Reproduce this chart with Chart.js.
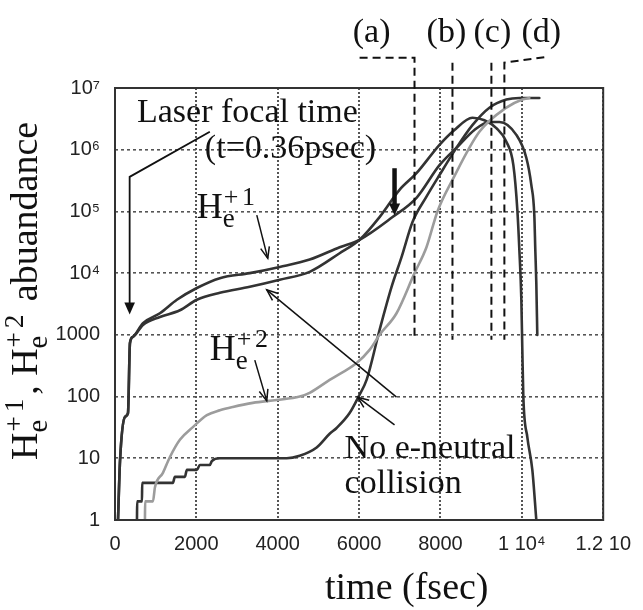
<!DOCTYPE html>
<html>
<head>
<meta charset="utf-8">
<script src="https://cdn.jsdelivr.net/npm/chart.js@4.4.0/dist/chart.umd.min.js"></script>
<style>
  html, body { margin: 0; padding: 0; background: #fff; }
</style>
</head>
<body>
<canvas id="chart" width="643" height="610"></canvas>
<script>
// ---- values: time (fsec) and abundance ----
// He+1, with e-neutral collision
const tHe1Coll = [74, 123, 245, 319, 368, 442, 687, 1104, 1521, 2012, 2577, 3313, 4049, 4785, 5522, 6012,
  6822, 7411, 7976, 8466, 8834, 9203, 9448, 9865, 10110, 10233, 10307, 10331, 10356, 10380];
const he1Coll = [1, 9, 47, 54, 740, 930, 1550, 2240, 3700, 5750, 8300, 10000, 12600, 16600, 26300, 34700,
  81000, 166000, 562000, 1200000, 2090000, 2820000, 2820000, 1740000, 741000, 269000, 87000, 24000, 6900, 1000];

// He+1, no e-neutral collision
const tHe1NoColl = [74, 123, 245, 319, 368, 442, 687, 1104, 1595, 2012, 2577, 3313, 4049, 4785, 5522, 6012,
  6503, 6994, 7411, 7976, 8344, 8785, 9080, 9374, 9620, 9792, 9890, 9939, 9988, 10012, 10037, 10135, 10258, 10356];
const he1NoColl = [1, 9, 47, 54, 740, 930, 1450, 1950, 2500, 3700, 4800, 6000, 7800, 10500, 21000, 34700,
  81000, 224000, 417000, 1200000, 2090000, 3300000, 3000000, 2240000, 1350000, 562000, 105000, 24000, 3700, 575, 100, 22, 6.5, 1];

// He+2, no e-neutral collision (dark, stair-stepped at low counts)
const tHe2NoColl = [540, 545, 663, 668, 1423, 1472, 1718, 1767, 2012, 2086, 2331, 2380, 2577, 4221, 4540, 4957,
  5276, 5448, 5767, 5988, 6184, 6503, 6798, 7043, 7313, 7656, 7976, 8393, 8785, 9203, 9620, 9939, 10430];
const he2NoColl = [1, 2, 2, 4, 4, 5, 5, 6.5, 6.5, 7.8, 7.8, 9, 10, 10, 11, 15,
  25, 31, 54, 100, 186, 1200, 6000, 18200, 67600, 174000, 389000, 1070000, 2500000, 4800000, 6500000, 6900000, 6900000];

// He+2, with e-neutral collision (grey)
const tHe2Coll = [736, 741, 933, 982, 1178, 1350, 1595, 1914, 2258, 2577, 2896, 3387, 3975, 4540, 4785, 5276,
  5939, 6258, 6503, 6920, 7362, 7656, 7926, 8295, 8957, 9620, 10012, 10184];
const he2Coll = [1, 2, 2, 3.4, 5.8, 10.5, 20, 32, 50, 60, 68, 79, 88, 100, 115, 186,
  350, 570, 1000, 2240, 10000, 26300, 100000, 324000, 1950000, 4800000, 6500000, 6900000];

const xTicks = [0, 2000, 4000, 6000, 8000, 10000, 12000];
const xTickLabels = ['0', '2000', '4000', '6000', '8000', '1 10\u2074', '1.2 10'];
const yTicks = [1, 10, 100, 1000, 1e4, 1e5, 1e6, 1e7];
const yTickLabels = ['1', '10', '100', '1000', '10\u2074', '10\u2075', '10\u2076', '10\u2077'];

const dark = '#333';
const grey = '#9c9c9c';
const serif = '"Liberation Serif", "Times New Roman", serif';
const sans = '"Liberation Sans", "DejaVu Sans", sans-serif';

function toPoints(ts, vs) {
  return ts.map((t, i) => ({ x: t, y: vs[i] }));
}

// labels, arrows, dashed markers and the frame
const notes = {
  id: 'notes',
  afterDraw(chart) {
    const ctx = chart.ctx;
    const a = chart.chartArea;
    const sx = chart.scales.x, sy = chart.scales.y;
    const P = (t, L) => [sx.getPixelForValue(t), sy.getPixelForValue(Math.pow(10, L))];

    function text(s, x, y, size, align) {
      ctx.font = size + 'px ' + serif;
      ctx.textAlign = align || 'left';
      ctx.textBaseline = 'alphabetic';
      ctx.fillText(s, x, y);
      return ctx.measureText(s).width;
    }
    function ion(x, y, size, charge) {
      const wH = text('H', x, y, size);
      text('e', x + wH, y + size * 0.25, size * 0.75);
      let cx = x + wH + 1;
      for (const ch of charge) cx += text(ch, cx, y - size * 0.36, size * 0.72) + size * 0.1;
      return cx - x;
    }
    function path(pts, width, dash) {
      ctx.lineWidth = width;
      ctx.setLineDash(dash || []);
      ctx.beginPath();
      pts.forEach((p, i) => i ? ctx.lineTo(p[0], p[1]) : ctx.moveTo(p[0], p[1]));
      ctx.stroke();
      ctx.setLineDash([]);
    }
    function head(p0, p1, len, spread, filled) {
      const ang = Math.atan2(p1[1] - p0[1], p1[0] - p0[0]);
      ctx.beginPath();
      ctx.moveTo(p1[0] - len * Math.cos(ang - spread), p1[1] - len * Math.sin(ang - spread));
      ctx.lineTo(p1[0], p1[1]);
      ctx.lineTo(p1[0] - len * Math.cos(ang + spread), p1[1] - len * Math.sin(ang + spread));
      if (filled) { ctx.closePath(); ctx.fill(); } else ctx.stroke();
    }
    function arrow(p0, p1) {
      path([p0, p1], 1.5);
      head(p0, p1, 12, 0.38, false);
    }

    ctx.save();
    ctx.strokeStyle = dark;
    ctx.lineWidth = 2;
    ctx.strokeRect(a.left, a.top, a.right - a.left, a.bottom - a.top);

    ctx.fillStyle = '#111';
    ctx.strokeStyle = '#111';
    ctx.lineCap = 'butt';

    // (a)-(d) markers
    const bottomL = 2.92;
    path([P(6012, 7.49), P(7362, 7.49), P(7362, bottomL)], 2, [8, 5]);
    path([P(8295, 7.41), P(8295, bottomL)], 2, [8, 5]);
    path([P(9252, 7.41), P(9252, bottomL)], 2, [8, 5]);
    path([P(10552, 7.50), P(9571, 7.41), P(9571, bottomL)], 2, [8, 5]);
    text('(a)', P(6307, 0)[0], P(0, 7.75)[1], 34, 'center');
    text('(b)', P(8147, 0)[0], P(0, 7.75)[1], 34, 'center');
    text('(c)', P(9276, 0)[0], P(0, 7.75)[1], 34, 'center');
    text('(d)', P(10480, 0)[0], P(0, 7.75)[1], 34, 'center');

    // laser focal time
    text('Laser focal time', P(540, 0)[0], P(0, 6.45)[1], 34);
    text('(t=0.36psec)', P(2209, 0)[0], P(0, 5.87)[1], 34);
    path([P(2331, 6.29), P(360, 5.56), P(360, 3.45)], 1.8);
    head(P(360, 4), P(360, 3.33), 13, 0.42, true);

    // ion labels
    ion(P(2012, 0)[0], P(0, 4.89)[1], 36, '+1');
    arrow(P(3485, 4.94), P(3755, 4.24));
    ion(P(2331, 0)[0], P(0, 2.59)[1], 36, '+2');
    arrow(P(3436, 2.59), P(3730, 1.93));

    // no e-neutral collision
    text('No e-neutral', P(5644, 0)[0], P(0, 1.0)[1], 34);
    text('collision', P(5644, 0)[0], P(0, 0.44)[1], 34);
    arrow(P(6920, 1.99), P(3730, 3.73));
    arrow(P(6871, 1.54), P(5963, 1.99));

    // thick arrow
    path([P(6871, 5.70), P(6871, 5.05)], 4.5);
    head(P(6871, 5.5), P(6871, 4.94), 13, 0.45, true);

    // axis titles
    text('time (fsec)', a.left + 210, a.bottom + 79, 38);
    ctx.translate(a.left - 78, a.bottom - 60);
    ctx.rotate(-Math.PI / 2);
    let c = ion(0, 0, 38, '+1');
    c += text(', ', c, 0, 38);
    c += ion(c, 0, 38, '+2');
    text(' abuandance', c, 0, 38);
    ctx.restore();
  }
};

new Chart(document.getElementById('chart'), {
  type: 'line',
  data: {
    datasets: [
      { data: toPoints(tHe2Coll, he2Coll), borderColor: grey },
      { data: toPoints(tHe2NoColl, he2NoColl), borderColor: dark },
      { data: toPoints(tHe1NoColl, he1NoColl), borderColor: dark },
      { data: toPoints(tHe1Coll, he1Coll), borderColor: dark }
    ]
  },
  options: {
    responsive: false,
    animation: false,
    elements: {
      point: { radius: 0 },
      line: { cubicInterpolationMode: 'monotone', borderWidth: 2.6, borderJoinStyle: 'round', borderCapStyle: 'round' }
    },
    layout: { padding: { top: 88, right: 39, left: 0, bottom: 0 } },
    plugins: { legend: { display: false }, tooltip: { enabled: false } },
    scales: {
      x: {
        type: 'linear', min: 0, max: 12000,
        afterBuildTicks: s => { s.ticks = xTicks.map(v => ({ value: v })); },
        afterFit: s => { s.height = 90; },
        ticks: {
          callback: (v, i) => xTickLabels[i],
          font: { family: sans, size: 20 }, color: '#222',
          padding: 12, maxRotation: 0, autoSkip: false
        },
        grid: { color: '#555', lineWidth: 2, drawTicks: false },
        border: { display: false, dash: [2, 2] }
      },
      y: {
        type: 'logarithmic', min: 1, max: 1e7,
        afterBuildTicks: s => { s.ticks = yTicks.map(v => ({ value: v })); },
        afterFit: s => { s.width = 115; },
        ticks: {
          callback: (v, i) => yTickLabels[i],
          font: { family: sans, size: 20 }, color: '#222',
          padding: 15, autoSkip: false
        },
        grid: { color: '#555', lineWidth: 1.6, drawTicks: false },
        border: { display: false, dash: [3, 3] }
      }
    }
  },
  plugins: [notes]
});
</script>
</body>
</html>
